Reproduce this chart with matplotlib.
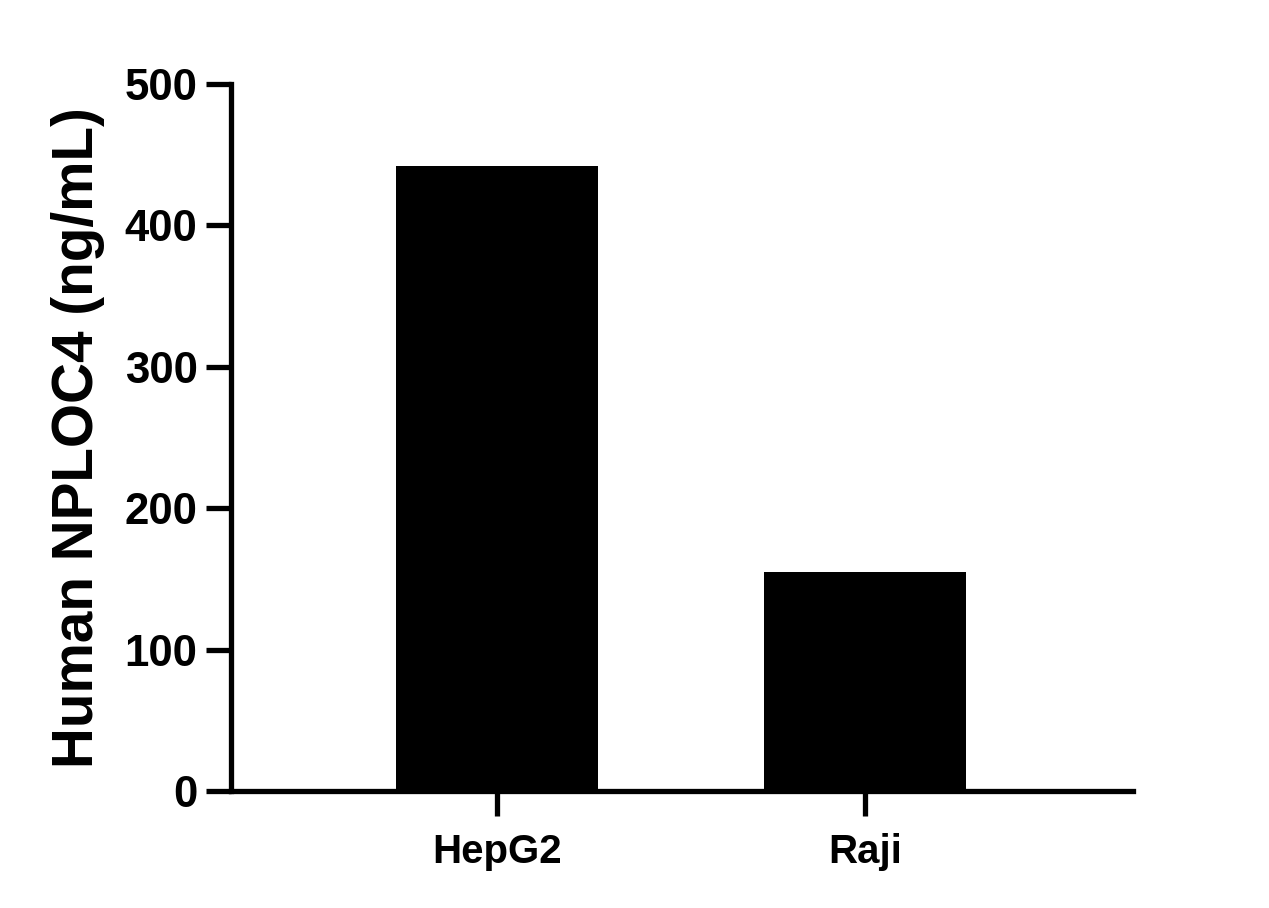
import matplotlib
matplotlib.use("Agg")
import matplotlib.pyplot as plt

# data
cell_lines = ["HepG2", "Raji"]
nploc4_ng_ml = [442, 155]
y_ticks = [0, 100, 200, 300, 400, 500]

plt.rcParams['font.family'] = ['Liberation Sans', 'DejaVu Sans']
plt.rcParams['font.weight'] = 'bold'

fig = plt.figure(figsize=(12.69, 9.08), dpi=100)
ax = fig.add_axes([0.182, 0.1289, 0.711, 0.7786])

x = list(range(len(cell_lines)))
ax.bar(x, nploc4_ng_ml, width=0.55, color='black')

ax.set_xlim(-0.723, 1.728)
ax.set_ylim(0, 500)
ax.set_yticks(y_ticks)
ax.set_xticks(x)
ax.set_xticklabels(cell_lines, fontsize=29, fontweight='bold')
ax.set_yticklabels([str(v) for v in y_ticks], fontsize=31.5, fontweight='bold')

ax.spines['top'].set_visible(False)
ax.spines['right'].set_visible(False)
for s in ('left', 'bottom'):
    ax.spines[s].set_linewidth(3.8)
ax.tick_params(axis='both', width=3.8, length=18, direction='out', pad=6)
ax.tick_params(axis='x', pad=12)

ax.set_ylabel("Human NPLOC4 (ng/mL)", fontsize=40.8, fontweight='bold', labelpad=14)

fig.savefig("out.png", dpi=100)
